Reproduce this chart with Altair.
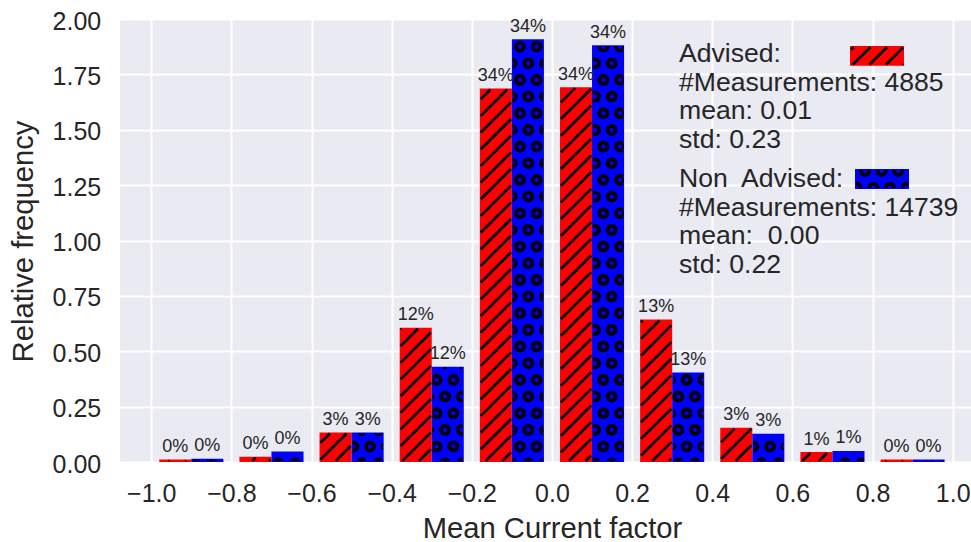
import math

import altair as alt
import pandas as pd

# ---------------------------------------------------------------------------
# Histogram of the mean current factor (relative frequency per 0.2-wide bin)
# ---------------------------------------------------------------------------
bin_left = [-1.0, -0.8, -0.6, -0.4, -0.2, 0.0, 0.2, 0.4, 0.6, 0.8]
advised_density = [0.011, 0.024, 0.133, 0.606, 1.686, 1.692, 0.643, 0.155, 0.045, 0.011]
non_advised_density = [0.015, 0.047, 0.133, 0.430, 1.909, 1.882, 0.404, 0.127, 0.050, 0.011]
advised_labels = ["0%", "0%", "3%", "12%", "34%", "34%", "13%", "3%", "1%", "0%"]
non_advised_labels = ["0%", "0%", "3%", "12%", "34%", "34%", "13%", "3%", "1%", "0%"]

advised_info = ["Advised:", "#Measurements: 4885", "mean: 0.01", "std: 0.23"]
non_advised_info = ["Non\u00a0 Advised:", "#Measurements: 14739", "mean:\u00a0 0.00", "std: 0.22"]

x_ticks = [-1.0, -0.8, -0.6, -0.4, -0.2, 0.0, 0.2, 0.4, 0.6, 0.8, 1.0]
y_ticks = [0.0, 0.25, 0.5, 0.75, 1.0, 1.25, 1.5, 1.75, 2.0]

RED = "#ff0000"
BLUE = "#0000ff"
INK = "#262626"
FONT = "Liberation Sans"

# ---------------------------------------------------------------------------
# Layout (pixels) and the matching data domains
# ---------------------------------------------------------------------------
LEFT, TOP, W, H = 120, 19, 851, 443
X_MIN = -1.078
X_MAX = X_MIN + W / 400.7
Y_MIN, Y_MAX = 0.0, 2.0

xscale = alt.Scale(domain=[X_MIN, X_MAX], nice=False, zero=False)
yscale = alt.Scale(domain=[Y_MIN, Y_MAX], nice=False, zero=False)


def sx(v):
    return LEFT + (v - X_MIN) / (X_MAX - X_MIN) * W


def sy(v):
    return TOP + H - (v - Y_MIN) / (Y_MAX - Y_MIN) * H


def ix(px):
    return X_MIN + (px - LEFT) / W * (X_MAX - X_MIN)


def iy(py):
    return Y_MIN + (TOP + H - py) / H * (Y_MAX - Y_MIN)


# ---------------------------------------------------------------------------
# Hatch helpers: "/" stripes and "o" rings, clipped to a pixel rectangle
# ---------------------------------------------------------------------------
P = 100 / 6          # hatch period in pixels
STRIPE_W = 2.7       # stripe stroke width
RING_W = 2.0         # each ring is two concentric strokes of this width
RING_RADII = (3.1, 4.9)


def inset(rect, d):
    x0, x1, y0, y1 = rect
    return (x0 + d, x1 - d, y0 + d, y1 - d)


def clip_segment(p, q, rect):
    x0, x1, y0, y1 = rect
    dx, dy = q[0] - p[0], q[1] - p[1]
    t0, t1 = 0.0, 1.0
    for pk, qk in ((-dx, p[0] - x0), (dx, x1 - p[0]), (-dy, p[1] - y0), (dy, y1 - p[1])):
        if pk == 0:
            if qk < 0:
                return None
        else:
            t = qk / pk
            if pk < 0:
                t0 = max(t0, t)
            else:
                t1 = min(t1, t)
    if t0 >= t1 - 1e-9:
        return None
    return t0, t1


def stripes(rect, phase):
    x0, x1, y0, y1 = inset(rect, STRIPE_W * 0.35)
    out = []
    k0 = math.floor((x0 + y0 - phase) / P) - 1
    k1 = math.ceil((x1 + y1 - phase) / P) + 1
    for k in range(k0, k1 + 1):
        c = phase + k * P
        xa = max(x0, c - y1)
        xb = min(x1, c - y0)
        if xb - xa > 0.3:
            out.append({"x": round(ix(xa), 5), "y": round(iy(c - xa), 5),
                        "x2": round(ix(xb), 5), "y2": round(iy(c - xb), 5)})
    return out


def circle_runs(cx, cy, r, n, rect):
    pts = [(cx + r * math.cos(2 * math.pi * i / n),
            cy + r * math.sin(2 * math.pi * i / n)) for i in range(n + 1)]
    runs, run = [], []
    first_open = last_open = False
    for i in range(n):
        p, q = pts[i], pts[i + 1]
        c = clip_segment(p, q, rect)
        if c is None:
            if run:
                runs.append(run)
                run = []
            continue
        t0, t1 = c
        a = (p[0] + t0 * (q[0] - p[0]), p[1] + t0 * (q[1] - p[1]))
        b = (p[0] + t1 * (q[0] - p[0]), p[1] + t1 * (q[1] - p[1]))
        if i == 0 and t0 == 0:
            first_open = True
        if run and t0 == 0:
            run.append(b)
        else:
            if run:
                runs.append(run)
            run = [a, b]
        if t1 < 1:
            runs.append(run)
            run = []
        elif i == n - 1:
            last_open = True
    if run:
        runs.append(run)
    if len(runs) >= 2 and first_open and last_open:
        runs[0] = runs[-1] + runs[0][1:]
        runs.pop()
    return runs


def rings(rect, row_phase, even_off, odd_off, seg_start):
    x0, x1, y0, y1 = rect
    clip_rect = inset(rect, RING_W / 2)
    reach = max(RING_RADII) + RING_W
    rows = []
    seg = seg_start
    k0 = math.floor((y0 - reach - row_phase) / P) - 1
    k1 = math.ceil((y1 + reach - row_phase) / P) + 1
    for k in range(k0, k1 + 1):
        cy = row_phase + k * P
        off = even_off if k % 2 == 0 else odd_off
        j0 = math.floor((x0 - reach - off) / P) - 1
        j1 = math.ceil((x1 + reach - off) / P) + 1
        for j in range(j0, j1 + 1):
            cx = off + j * P
            for r, n in zip(RING_RADII, (24, 36)):
                for rr in circle_runs(cx, cy, r, n, clip_rect):
                    for o, (px, py) in enumerate(rr):
                        rows.append({"x": round(ix(px), 5), "y": round(iy(py), 5),
                                     "s": seg, "o": o})
                    seg += 1
    return rows, seg


# ---------------------------------------------------------------------------
# Tables for the bars, hatching and labels
# ---------------------------------------------------------------------------
bars, labels, stripe_rows, ring_rows = [], [], [], []
seg_id = 0
for left, h_a, h_n, l_a, l_n in zip(bin_left, advised_density, non_advised_density,
                                    advised_labels, non_advised_labels):
    a0, a1 = left + 0.02, left + 0.10
    n0, n1 = left + 0.10, left + 0.18
    bars.append({"x": a0, "x2": a1, "y": 0.0, "y2": h_a, "group": "Advised"})
    bars.append({"x": n0, "x2": n1, "y": 0.0, "y2": h_n, "group": "Non Advised"})
    labels.append({"x": (a0 + a1) / 2, "y": h_a, "label": l_a})
    labels.append({"x": (n0 + n1) / 2, "y": h_n, "label": l_n})
    stripe_rows += stripes((sx(a0), sx(a1), sy(h_a), sy(0.0)), 13.3)
    new_rows, seg_id = rings((sx(n0), sx(n1), sy(h_n), sy(0.0)), 13.2, 3.33, 11.67, seg_id)
    ring_rows += new_rows

# legend swatches (pixel boxes next to the group descriptions)
swatch_red = (850, 904, 46, 65.7)
swatch_blue = (855, 909, 169, 189)
swatches = [
    {"x": ix(swatch_red[0]), "x2": ix(swatch_red[1]), "y": iy(swatch_red[3]),
     "y2": iy(swatch_red[2]), "group": "Advised"},
    {"x": ix(swatch_blue[0]), "x2": ix(swatch_blue[1]), "y": iy(swatch_blue[3]),
     "y2": iy(swatch_blue[2]), "group": "Non Advised"},
]
stripe_rows += stripes(swatch_red, 0.7)
new_rows, seg_id = rings(swatch_blue, 4.33, 15.0, 6.67, seg_id)
ring_rows += new_rows

info_rows = []
for i, t in enumerate(advised_info):
    info_rows.append({"x": ix(679), "y": iy(61.7 + i * 28.8), "text": t})
for i, t in enumerate(non_advised_info):
    info_rows.append({"x": ix(679), "y": iy(186.7 + i * 28.8), "text": t})

bars_df = pd.DataFrame(bars + swatches)
labels_df = pd.DataFrame(labels)
stripes_df = pd.DataFrame(stripe_rows)
rings_df = pd.DataFrame(ring_rows)
info_df = pd.DataFrame(info_rows)

color = alt.Color("group:N", scale=alt.Scale(domain=["Advised", "Non Advised"],
                                             range=[RED, BLUE]), legend=None)

x_axis = alt.Axis(
    values=x_ticks,
    labelExpr="replace(format(datum.value, '.1f'), '-', '\u2212')",
    title="Mean Current factor",
    labelPadding=39.7,
    labelBaseline="alphabetic",
    labelFlush=False,
    titleX=432,
    titleY=75.2,
    titleBaseline="alphabetic",
    titleAlign="center",
)
y_axis = alt.Axis(
    values=y_ticks,
    format=".2f",
    title="Relative frequency",
    labelPadding=19.3,
    labelBaseline="alphabetic",
    labelOffset=10,
    titleX=-88,
    titleY=222,
    titleBaseline="alphabetic",
    titleAlign="center",
)

bar_layer = alt.Chart(bars_df).mark_rect().encode(
    x=alt.X("x:Q", scale=xscale, axis=x_axis),
    x2="x2:Q",
    y=alt.Y("y:Q", scale=yscale, axis=y_axis),
    y2="y2:Q",
    color=color,
)

stripe_layer = alt.Chart(stripes_df).mark_rule(
    color="black", strokeWidth=STRIPE_W, strokeCap="butt"
).encode(
    x=alt.X("x:Q", scale=xscale),
    y=alt.Y("y:Q", scale=yscale),
    x2="x2:Q",
    y2="y2:Q",
)

ring_layer = alt.Chart(rings_df).mark_line(
    color="black", strokeWidth=RING_W, strokeCap="butt"
).encode(
    x=alt.X("x:Q", scale=xscale),
    y=alt.Y("y:Q", scale=yscale),
    detail="s:N",
    order=alt.Order("o:Q"),
)

label_layer = alt.Chart(labels_df).mark_text(
    fontSize=18, font=FONT, color=INK, baseline="alphabetic", align="center", dy=-7.5
).encode(
    x=alt.X("x:Q", scale=xscale),
    y=alt.Y("y:Q", scale=yscale),
    text="label:N",
)

info_layer = alt.Chart(info_df).mark_text(
    fontSize=26.6, font=FONT, color=INK, baseline="alphabetic", align="left"
).encode(
    x=alt.X("x:Q", scale=xscale),
    y=alt.Y("y:Q", scale=yscale),
    text="text:N",
)

chart = (
    alt.layer(bar_layer, stripe_layer, ring_layer, label_layer, info_layer)
    .properties(
        width=W,
        height=H,
        autosize=alt.AutoSizeParams(type="none"),
        padding={"left": LEFT, "top": TOP, "right": 0, "bottom": 542 - TOP - H},
        background="white",
    )
    .configure_view(fill="#eaeaf2", stroke=None)
    .configure_axis(
        domain=False,
        ticks=False,
        tickSize=0,
        grid=True,
        gridColor="white",
        gridWidth=2,
        labelFont=FONT,
        labelFontSize=25,
        labelColor=INK,
        titleFont=FONT,
        titleFontSize=29.2,
        titleFontWeight="normal",
        titleColor=INK,
    )
)

chart.save("out.html", embed_options={"renderer": "svg", "actions": False})
